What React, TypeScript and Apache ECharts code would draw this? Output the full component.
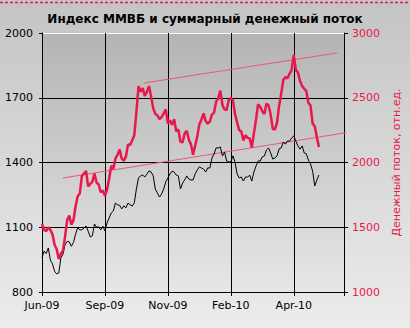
import React, { useEffect, useRef } from "react";
import * as echarts from "echarts";

const xTicks = ["Jun-09", "Sep-09", "Nov-09", "Feb-10", "Apr-10"];
const leftTicks = [800, 1100, 1400, 1700, 2000];
const rightTicks = [1000, 1500, 2000, 2500, 3000];

// Индекс ММВБ (left axis)
const micex = [
  958, 990, 978, 1004, 948, 930, 896, 884, 888, 958,
  975, 1020, 1035, 1032, 1012, 1030, 1068, 1098, 1088, 1088,
  1096, 1106, 1082, 1055, 1060, 1115, 1100, 1102, 1088, 1105,
  1083, 1120, 1143, 1166, 1175, 1213, 1203, 1202, 1185, 1199,
  1190, 1212, 1204, 1198, 1213, 1278, 1328, 1338, 1342, 1333,
  1346, 1361, 1356, 1338, 1277, 1259, 1240, 1254, 1277, 1310,
  1328, 1347, 1360, 1356, 1342, 1338, 1277, 1305, 1319, 1338,
  1323, 1319, 1319, 1347, 1365, 1380, 1374, 1370, 1356, 1375,
  1374, 1421, 1439, 1468, 1467, 1472, 1430, 1449, 1407, 1403,
  1402, 1431, 1402, 1347, 1328, 1333, 1314, 1333, 1332, 1342,
  1314, 1356, 1383, 1407, 1407, 1426, 1430, 1458, 1467, 1444,
  1416, 1421, 1430, 1463, 1467, 1495, 1485, 1500, 1499, 1514,
  1523, 1499, 1477, 1462, 1477, 1444, 1440, 1411, 1393, 1360,
  1291, 1319, 1342,
];

// Суммарный денежный поток (right axis)
const flow = [
  1525, 1480, 1470, 1500, 1480, 1445, 1365, 1330, 1255, 1295,
  1320, 1430, 1555, 1590, 1520, 1555, 1660, 1740, 1760, 1895,
  1915, 1935, 1815, 1835, 1850, 1915, 1845, 1830, 1770, 1785,
  1740, 1790, 1875, 1975, 1950, 2030, 2060, 2100, 2030, 2015,
  2045, 2140, 2135, 2170, 2210, 2390, 2590, 2545, 2575, 2515,
  2545, 2590, 2510, 2420, 2375, 2365, 2335, 2350, 2380, 2410,
  2300, 2325, 2290, 2335, 2240, 2255, 2160, 2155, 2225, 2245,
  2175, 2140, 2060, 2130, 2200, 2295, 2330, 2380, 2320, 2300,
  2315, 2370, 2385, 2470, 2495, 2555, 2445, 2410, 2405, 2480,
  2500, 2480, 2375, 2310, 2250, 2240, 2170, 2210, 2190, 2185,
  2115, 2225, 2330, 2450, 2430, 2395, 2375, 2455, 2440, 2370,
  2260, 2255, 2305, 2435, 2530, 2635, 2660, 2650, 2685, 2715,
  2830, 2715, 2695, 2630, 2590, 2570, 2550, 2460, 2440, 2300,
  2280, 2195, 2120,
];

const trendUpper = [[48.6, 2614], [140.7, 2846]];
const trendLower = [[9.9, 1880], [148.7, 2240]];

const RED = "#e8184c";
const TREND = "#e8587c";

export default function App() {
  const ref = useRef<HTMLDivElement>(null);
  useEffect(() => {
    if (!ref.current) return;
    const chart = echarts.init(ref.current, null, { renderer: "svg" });
    const font = "DejaVu Sans";
    chart.setOption({
      animation: false,
      backgroundColor: new echarts.graphic.LinearGradient(0, 0, 0, 1, [
        { offset: 0, color: "#c4c4c4" },
        { offset: 1, color: "#ececec" },
      ]),
      title: {
        text: "Индекс ММВБ и суммарный денежный поток",
        left: "center",
        top: 8,
        textStyle: { fontFamily: font, fontSize: 12, fontWeight: "bold", color: "#000" },
      },
      graphic: [
        {
          type: "line",
          shape: { x1: 0, y1: 2.5, x2: 410, y2: 2.5 },
          style: { stroke: RED, lineWidth: 1.5, lineDash: [3, 2] },
        },
      ],
      grid: {
        left: 42,
        right: 63,
        top: 33,
        bottom: 36,
        show: true,
        borderWidth: 0,
        backgroundColor: new echarts.graphic.LinearGradient(0, 0, 0, 1, [
          { offset: 0, color: "#b4b4b4" },
          { offset: 0.5, color: "#cdcdcd" },
          { offset: 1, color: "#e6e6e6" },
        ]),
      },
      xAxis: {
        type: "value",
        min: 0,
        max: 144,
        interval: 30,
        axisLine: { show: true, lineStyle: { color: "#000", width: 1 } },
        axisTick: { show: true, length: 4, lineStyle: { color: "#000" } },
        axisLabel: {
          margin: 8,
          fontFamily: font,
          fontSize: 11,
          color: "#000",
          formatter: (v: number) => (v % 30 === 0 ? xTicks[v / 30] ?? "" : ""),
        },
        splitLine: { show: true, lineStyle: { color: "#000", width: 1 } },
      },
      yAxis: [
        {
          type: "value",
          min: leftTicks[0],
          max: leftTicks[leftTicks.length - 1],
          interval: 300,
          position: "left",
          axisLine: { show: true, lineStyle: { color: "#000" } },
          axisTick: { show: true, length: 3, lineStyle: { color: "#000" } },
          axisLabel: {
            margin: 9,
            fontFamily: font,
            fontSize: 11,
            color: "#000",
            formatter: (v: number) => String(v),
          },
          splitLine: {
            show: true,
            lineStyle: { color: ["#000", "#000", "#000", "#000", "#fff"], width: 1 },
          },
        },
        {
          type: "value",
          min: rightTicks[0],
          max: rightTicks[rightTicks.length - 1],
          interval: 500,
          position: "right",
          name: "Денежный поток, отн.ед.",
          nameLocation: "middle",
          nameRotate: 90,
          nameGap: 45,
          nameTextStyle: { fontFamily: font, fontSize: 11, color: RED },
          axisLine: { show: true, lineStyle: { color: "#000" } },
          axisTick: { show: true, length: 4, lineStyle: { color: "#000" } },
          axisLabel: {
            margin: 8,
            fontFamily: font,
            fontSize: 11,
            color: RED,
            formatter: (v: number) => String(v),
          },
          splitLine: { show: false },
        },
      ],
      series: [
        {
          type: "line",
          yAxisIndex: 1,
          data: trendUpper,
          symbol: "none",
          lineStyle: { color: TREND, width: 1 },
          silent: true,
        },
        {
          type: "line",
          yAxisIndex: 1,
          data: trendLower,
          symbol: "none",
          clip: false,
          lineStyle: { color: TREND, width: 1 },
          silent: true,
        },
        {
          type: "line",
          yAxisIndex: 0,
          data: micex.map((v, i) => [i, v]),
          symbol: "none",
          lineStyle: { color: "#000", width: 1 },
        },
        {
          type: "line",
          yAxisIndex: 1,
          data: flow.map((v, i) => [i, v]),
          symbol: "none",
          lineStyle: { color: RED, width: 2.5 },
        },
      ],
    });
    return () => chart.dispose();
  }, []);
  return (
    <div
      ref={ref}
      style={{ position: "fixed", left: 0, top: 0, width: 410, height: 328 }}
    />
  );
}
